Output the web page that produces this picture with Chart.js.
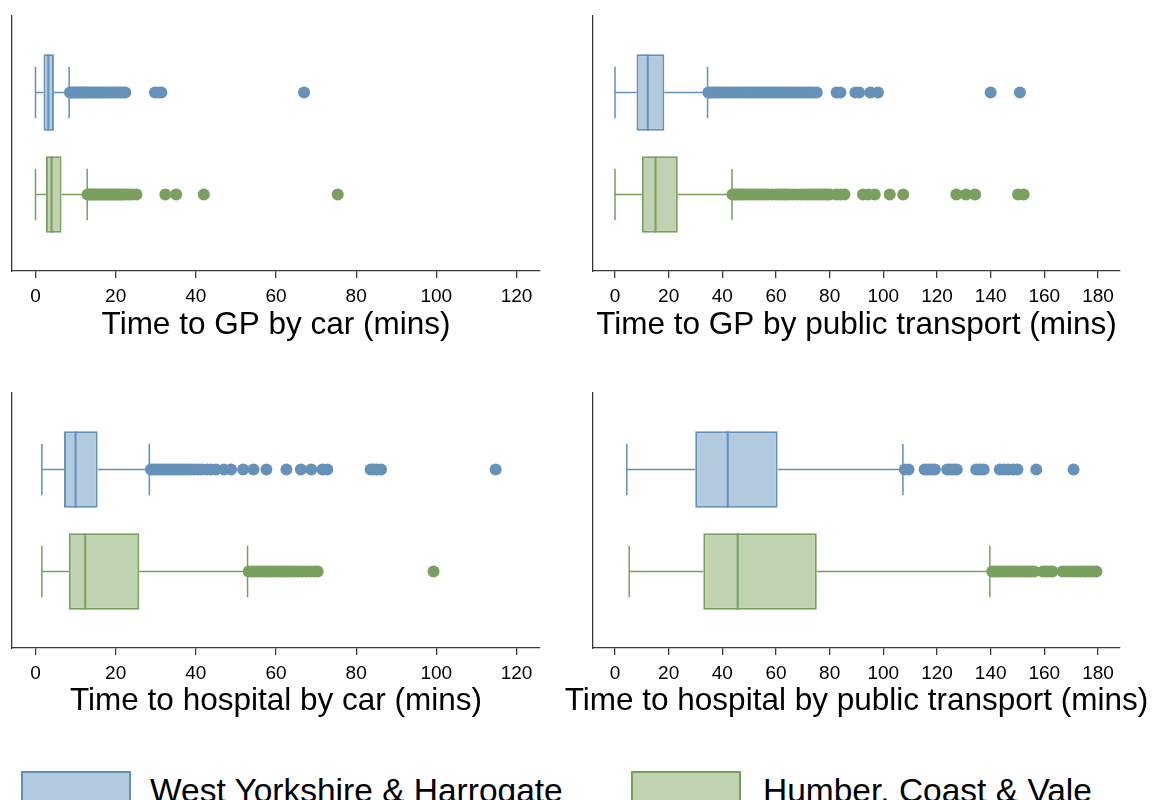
<!DOCTYPE html>
<html>
<head>
<meta charset="utf-8">
<title>Travel times to GP and hospital</title>
<script src="https://cdn.jsdelivr.net/npm/chart.js@4.4.1/dist/chart.umd.min.js"></script>
<style>
  html, body { margin: 0; padding: 0; background: #fff; }
  body {
    width: 1153px; height: 800px; position: relative; overflow: hidden;
    font-family: "Liberation Sans", Arial, sans-serif;
  }
  canvas { position: absolute; }
  .key {
    position: absolute; top: 771px; width: 110px; height: 40px;
    box-sizing: border-box; border: 2px solid;
  }
  .key-label {
    position: absolute; top: 774px; font-size: 33.5px; line-height: 33px;
    color: #000; white-space: nowrap;
  }
</style>
</head>
<body>
<canvas id="gpCar" width="576" height="360" style="left:0;top:0"></canvas>
<canvas id="gpPt" width="597" height="360" style="left:556px;top:0"></canvas>
<canvas id="hospCar" width="576" height="360" style="left:0;top:376px"></canvas>
<canvas id="hospPt" width="597" height="360" style="left:556px;top:376px"></canvas>

<div class="key" id="keyWest" style="left:21px"></div>
<span class="key-label" id="labelWest" style="left:150px"></span>
<div class="key" id="keyHumber" style="left:631px"></div>
<span class="key-label" id="labelHumber" style="left:763px"></span>

<script>
// ---- data ---------------------------------------------------------------
const GROUPS = ['West Yorkshire & Harrogate', 'Humber, Coast & Vale'];
const ROWS = [1, 2];

// five-number summaries: lower whisker, Q1, median, Q3, upper whisker
const gpCarWest = [0, 2.0, 3.2, 4.6, 8.4];
const gpCarHumber = [0, 2.6, 4.0, 6.5, 12.9];
const gpCarWestOut = [8.6, 9.0, 9.4, 9.8, 10.2, 10.6, 11.0, 11.4, 11.8, 12.2, 12.6, 13.0,
  13.5, 14.0, 14.5, 15.0, 15.5, 16.0, 16.5, 17.0, 17.6, 18.2, 18.8, 19.4, 20.0, 20.6,
  21.2, 21.8, 22.4, 29.8, 30.6, 31.4, 67.0];
const gpCarHumberOut = [13.0, 13.4, 13.8, 14.2, 14.6, 15.0, 15.5, 16.0, 16.5, 17.0, 17.5,
  18.0, 18.5, 19.0, 19.5, 20.0, 20.5, 21.0, 21.5, 22.0, 22.6, 23.4, 24.2, 25.2, 32.4,
  35.1, 42.0, 75.4];

const gpPtWest = [0, 8.0, 12.2, 18.4, 34.5];
const gpPtHumber = [0, 10.0, 15.1, 23.4, 43.6];
const gpPtWestOut = [34.8, 35.6, 36.4, 37.2, 38.0, 39.0, 40.0, 41.0, 42.0, 43.0, 44.0, 45.0,
  46.0, 47.0, 48.0, 49.0, 50.0, 51.0, 52.0, 53.0, 54.0, 55.0, 56.0, 57.0, 58.0, 59.0,
  60.0, 61.0, 62.0, 63.0, 64.0, 65.0, 66.0, 67.0, 68.0, 69.0, 70.0, 71.0, 72.0, 73.0,
  74.0, 75.2, 82.6, 84.0, 89.6, 91.0, 95.2, 98.0, 140.0, 150.9];
const gpPtHumberOut = [43.8, 44.6, 45.4, 46.2, 47.0, 48.0, 49.0, 50.0, 51.0, 52.0, 53.0,
  54.0, 55.0, 56.0, 57.0, 58.5, 60.0, 61.0, 62.0, 63.0, 64.0, 65.0, 66.5, 68.0, 69.5,
  71.0, 72.0, 73.0, 74.0, 75.0, 76.0, 77.0, 78.0, 79.0, 80.0, 82.5, 84.0, 85.5, 92.4,
  94.4, 96.8, 102.4, 107.4, 127.2, 130.8, 134.2, 150.2, 152.3];

const hospCarWest = [1.6, 7.1, 10.0, 15.5, 28.4];
const hospCarHumber = [1.6, 8.3, 12.4, 25.9, 52.9];
const hospCarWestOut = [28.8, 29.5, 30.2, 30.9, 31.6, 32.3, 33.0, 33.7, 34.4, 35.1, 35.8,
  36.5, 37.2, 38.0, 38.8, 39.6, 40.5, 41.5, 42.8, 43.8, 45.0, 47.0, 48.8, 51.8, 54.4,
  57.6, 62.6, 66.2, 68.8, 71.6, 72.8, 83.6, 84.4, 85.2, 86.2, 114.8];
const hospCarHumberOut = [53.2, 54.0, 54.8, 55.6, 56.4, 57.2, 58.0, 58.8, 59.6, 60.4,
  61.2, 62.0, 62.8, 63.6, 64.6, 65.6, 66.6, 67.6, 68.6, 69.6, 70.4, 99.3];

const hospPtWest = [4.4, 29.9, 42.0, 60.6, 107.3];
const hospPtHumber = [5.3, 32.9, 45.7, 75.2, 139.7];
const hospPtWestOut = [108.0, 109.4, 115.4, 116.6, 118.0, 119.2, 123.8, 125.0, 126.2,
  127.4, 134.6, 136.0, 137.4, 143.4, 145.0, 146.6, 148.4, 150.0, 157.0, 170.9];
const hospPtHumberOut = [140.6, 141.8, 143.0, 144.2, 145.4, 146.6, 147.8, 149.0, 150.2,
  151.4, 152.6, 153.8, 155.0, 156.2, 159.4, 160.6, 161.8, 163.0, 166.8, 168.2, 169.6,
  171.0, 172.4, 173.8, 175.2, 176.6, 178.0, 179.4];

const carTicks = [0, 20, 40, 60, 80, 100, 120];
const ptTicks = [0, 20, 40, 60, 80, 100, 120, 140, 160, 180];

// ---- styling ------------------------------------------------------------
const FONT = '"Liberation Sans", Arial, sans-serif';
const AXIS = '#3a3a3a';
const EDGE = ['#6190b8', '#78a05c'];
const FILL = ['#b3c9de', '#bfd2b1'];
const DOT = ['#6692b9', '#7aa060'];

// Whiskers and caps go under the boxes, medians on top of them
const boxWhiskers = {
  id: 'boxWhiskers',
  beforeDatasetsDraw(chart) {
    const ds = chart.data.datasets[0];
    const meta = chart.getDatasetMeta(0);
    const xs = chart.scales.x;
    const ctx = chart.ctx;
    ds.stats.forEach((s, i) => {
      const bar = meta.data[i];
      const yc = bar.y;
      const half = bar.height * 0.335;
      const lo = xs.getPixelForValue(s[0]);
      const q1 = xs.getPixelForValue(s[1]);
      const q3 = xs.getPixelForValue(s[3]);
      const hi = xs.getPixelForValue(s[4]);
      ctx.save();
      ctx.strokeStyle = EDGE[i];
      ctx.lineWidth = 1.5;
      ctx.beginPath();
      ctx.moveTo(lo, yc); ctx.lineTo(q1, yc);
      ctx.moveTo(q3, yc); ctx.lineTo(hi, yc);
      ctx.moveTo(lo, yc - half); ctx.lineTo(lo, yc + half);
      ctx.moveTo(hi, yc - half); ctx.lineTo(hi, yc + half);
      ctx.stroke();
      ctx.restore();
    });
  },
  afterDatasetDraw(chart, args) {
    if (args.index !== 0) return;
    const ds = chart.data.datasets[0];
    const xs = chart.scales.x;
    const ctx = chart.ctx;
    ds.stats.forEach((s, i) => {
      const bar = args.meta.data[i];
      const med = xs.getPixelForValue(s[2]);
      ctx.save();
      ctx.strokeStyle = EDGE[i];
      ctx.lineWidth = 2;
      ctx.beginPath();
      ctx.moveTo(med, bar.y - bar.height / 2);
      ctx.lineTo(med, bar.y + bar.height / 2);
      ctx.stroke();
      ctx.restore();
    });
  }
};

// Axis caption centred under the plot; the scale's own title would be
// squeezed to the axis width, and the long captions run past it
const axisCaption = {
  id: 'axisCaption',
  afterDraw(chart, args, opts) {
    const xs = chart.scales.x;
    const ctx = chart.ctx;
    ctx.save();
    ctx.fillStyle = '#000';
    ctx.font = '31.5px ' + FONT;
    ctx.textAlign = 'center';
    ctx.textBaseline = 'middle';
    ctx.fillText(opts.text, (xs.left + xs.right) / 2, xs.bottom - 35);
    ctx.restore();
  }
};

function boxPanel(id, summaries, outliers, ticks, range, title, padding, axisHeight) {
  const datasets = [{
    type: 'bar',
    indexAxis: 'y',
    order: 1,
    data: summaries.map((s, i) => ({ x: [s[1], s[3]], y: ROWS[i] })),
    stats: summaries,
    backgroundColor: FILL,
    borderColor: EDGE,
    borderWidth: 2,
    borderSkipped: false,
    barPercentage: 0.75,
    categoryPercentage: 1
  }];
  outliers.forEach((list, i) => {
    datasets.push({
      type: 'scatter',
      order: 0,
      data: list.map(v => ({ x: v, y: ROWS[i] })),
      pointRadius: 6,
      pointBorderWidth: 0,
      pointBackgroundColor: DOT[i],
      pointBorderColor: DOT[i]
    });
  });

  return new Chart(document.getElementById(id), {
    type: 'bar',
    data: { datasets },
    options: {
      responsive: false,
      animation: false,
      events: [],
      layout: { padding },
      plugins: {
        legend: { display: false },
        tooltip: { enabled: false },
        axisCaption: { text: title }
      },
      scales: {
        x: {
          type: 'linear',
          offset: false,
          min: range[0],
          max: range[1],
          afterBuildTicks: s => { s.ticks = ticks.map(v => ({ value: v })); },
          afterFit: s => { s.height = axisHeight; },
          border: { display: true, color: AXIS, width: 1.3 },
          grid: {
            display: true, offset: false, drawOnChartArea: false, drawTicks: true,
            tickLength: 7, color: AXIS, lineWidth: 1.3
          },
          ticks: { color: '#000', padding: 7, maxRotation: 0, font: { family: FONT, size: 19 } },
          title: { display: false }
        },
        y: {
          type: 'linear',
          offset: false,
          reverse: true,
          min: 0.25,
          max: 2.75,
          afterBuildTicks: s => { s.ticks = ROWS.map(v => ({ value: v })); },
          afterFit: s => { s.width = 0; },
          border: { display: true, color: AXIS, width: 1.3 },
          grid: { display: false, offset: false },
          ticks: { display: false }
        }
      }
    },
    plugins: [boxWhiskers, axisCaption]
  });
}

boxPanel('gpCar', [gpCarWest, gpCarHumber], [gpCarWestOut, gpCarHumberOut], carTicks,
  [-5.86, 125.86], 'Time to GP by car (mins)', { left: 12, right: 36, top: 16, bottom: 0 }, 89);
boxPanel('gpPt', [gpPtWest, gpPtHumber], [gpPtWestOut, gpPtHumberOut], ptTicks,
  [-8.2, 188.2], 'Time to GP by public transport (mins)', { left: 37, right: 33, top: 16, bottom: 0 }, 89);
boxPanel('hospCar', [hospCarWest, hospCarHumber], [hospCarWestOut, hospCarHumberOut], carTicks,
  [-5.86, 125.86], 'Time to hospital by car (mins)', { left: 12, right: 36, top: 17, bottom: 0 }, 88);
boxPanel('hospPt', [hospPtWest, hospPtHumber], [hospPtWestOut, hospPtHumberOut], ptTicks,
  [-8.2, 188.2], 'Time to hospital by public transport (mins)', { left: 37, right: 33, top: 17, bottom: 0 }, 88);

// shared key along the bottom
['keyWest', 'keyHumber'].forEach((id, i) => {
  const el = document.getElementById(id);
  el.style.background = FILL[i];
  el.style.borderColor = EDGE[i];
});
document.getElementById('labelWest').textContent = GROUPS[0];
document.getElementById('labelHumber').textContent = GROUPS[1];
</script>
</body>
</html>
